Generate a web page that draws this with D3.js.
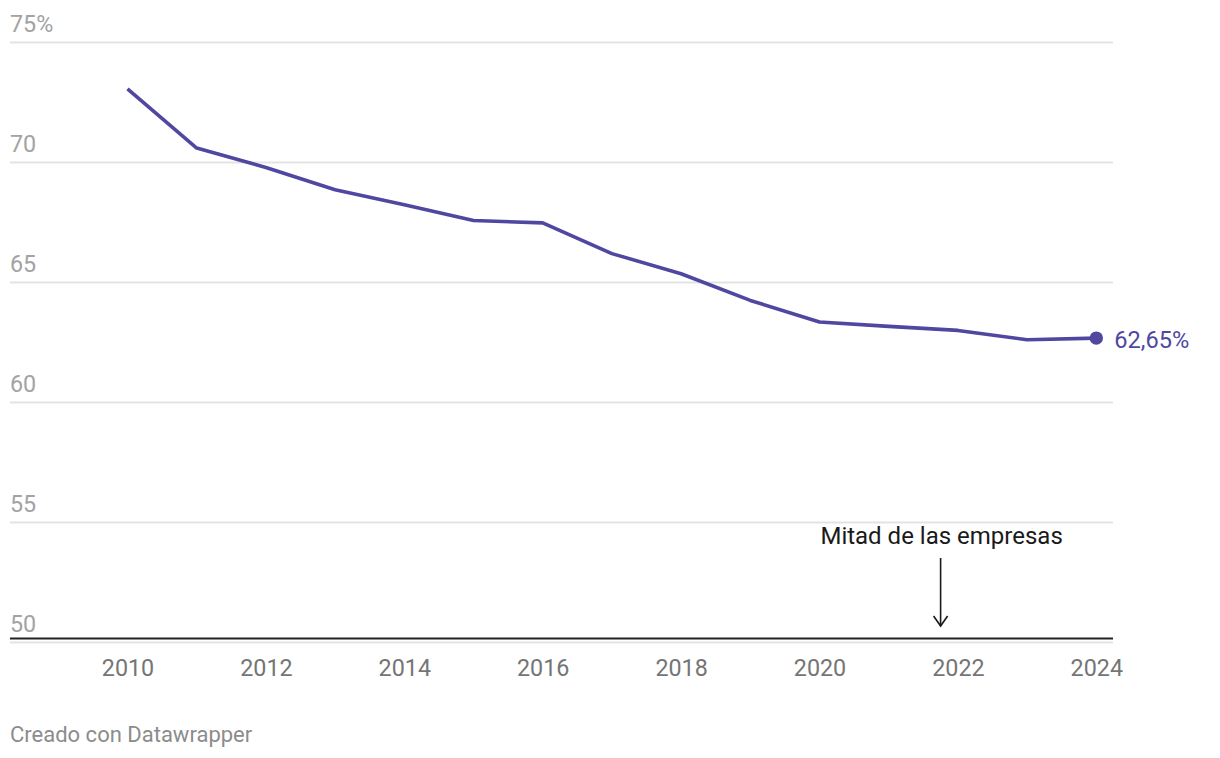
<!DOCTYPE html>
<html>
<head>
<meta charset="utf-8">
<script src="https://cdn.jsdelivr.net/npm/d3@7"></script>
<style>
  html, body { margin: 0; padding: 0; background: #fff; }
  svg { display: block; font-family: Roboto, "Noto Sans", sans-serif; }
</style>
</head>
<body>
<svg id="chart" width="1220" height="758"></svg>
<script>
const years = [2010, 2011, 2012, 2013, 2014, 2015, 2016, 2017, 2018, 2019, 2020, 2021, 2022, 2023, 2024];
const values = [73.03, 70.57, 69.76, 68.83, 68.21, 67.55, 67.45, 66.17, 65.33, 64.22, 63.32, 63.14, 62.97, 62.58, 62.65];
const yTicks = [50, 55, 60, 65, 70, 75];
const yTickLabels = ["50", "55", "60", "65", "70", "75%"];
const xTicks = [2010, 2012, 2014, 2016, 2018, 2020, 2022, 2024];
const lastLabel = "62,65%";
const annotationText = "Mitad de las empresas";
const annotationYear = 2021.75;
const footer = "Creado con Datawrapper";

const svg = d3.select("#chart");
const lineColor = "#4f47a0";

const x = d3.scaleLinear().domain([2010, 2024]).range([127.5, 1096.3]);
const y = d3.scaleLinear().domain([50, 75]).range([641.7, 41.7]);
const gridLeft = 10, gridRight = 1113;

// gridlines
svg.append("g").selectAll("line").data(yTicks).join("line")
  .attr("x1", gridLeft).attr("x2", gridRight)
  .attr("y1", d => Math.round(y(d)) + 0.5).attr("y2", d => Math.round(y(d)) + 0.5)
  .attr("stroke", "#e3e3e3").attr("stroke-width", 2);

// y labels
svg.append("g").selectAll("text").data(yTicks).join("text")
  .attr("x", gridLeft).attr("y", d => y(d) - 9.5)
  .attr("fill", "#a3a3a3").attr("font-size", 23.3)
  .text((d, i) => yTickLabels[i]);

// baseline
svg.append("line")
  .attr("x1", gridLeft).attr("x2", gridRight)
  .attr("y1", y(50) - 3.2).attr("y2", y(50) - 3.2)
  .attr("stroke", "#222").attr("stroke-width", 2);

// x axis labels
const xAxis = d3.axisBottom(x).tickValues(xTicks).tickFormat(d3.format("d")).tickSize(0).tickPadding(0);
const gx = svg.append("g").attr("transform", "translate(0,676)").call(xAxis);
gx.select(".domain").remove();
gx.selectAll("text")
  .attr("dy", null).attr("y", 0)
  .attr("fill", "#757575").attr("font-size", 23.3)
  .attr("font-family", "Roboto, sans-serif");

// line
const data = years.map((yr, i) => ({ yr, v: values[i] }));
svg.append("path").datum(data)
  .attr("d", d3.line().x(d => x(d.yr)).y(d => y(d.v)))
  .attr("fill", "none").attr("stroke", lineColor)
  .attr("stroke-width", 3.6).attr("stroke-linejoin", "round");

const last = data[data.length - 1];
svg.append("circle").attr("cx", x(last.yr)).attr("cy", y(last.v)).attr("r", 6.7).attr("fill", lineColor);
svg.append("text").attr("x", x(last.yr) + 18).attr("y", y(last.v) + 10)
  .attr("fill", lineColor).attr("font-size", 23.6).text(lastLabel);

// annotation
const ax = x(annotationYear);
svg.append("text").attr("x", ax + 1).attr("y", 544).attr("text-anchor", "middle")
  .attr("fill", "#1a1a1a").attr("font-size", 24).text(annotationText);
svg.append("line").attr("x1", ax).attr("x2", ax).attr("y1", 558).attr("y2", 626)
  .attr("stroke", "#1a1a1a").attr("stroke-width", 1.6);
svg.append("path").attr("d", `M${ax - 7},${616} L${ax},${626} L${ax + 7},${616}`)
  .attr("fill", "none").attr("stroke", "#1a1a1a").attr("stroke-width", 1.6);

// footer
svg.append("text").attr("x", 10).attr("y", 742)
  .attr("fill", "#8c8c8c").attr("font-size", 22).text(footer);
</script>
</body>
</html>
